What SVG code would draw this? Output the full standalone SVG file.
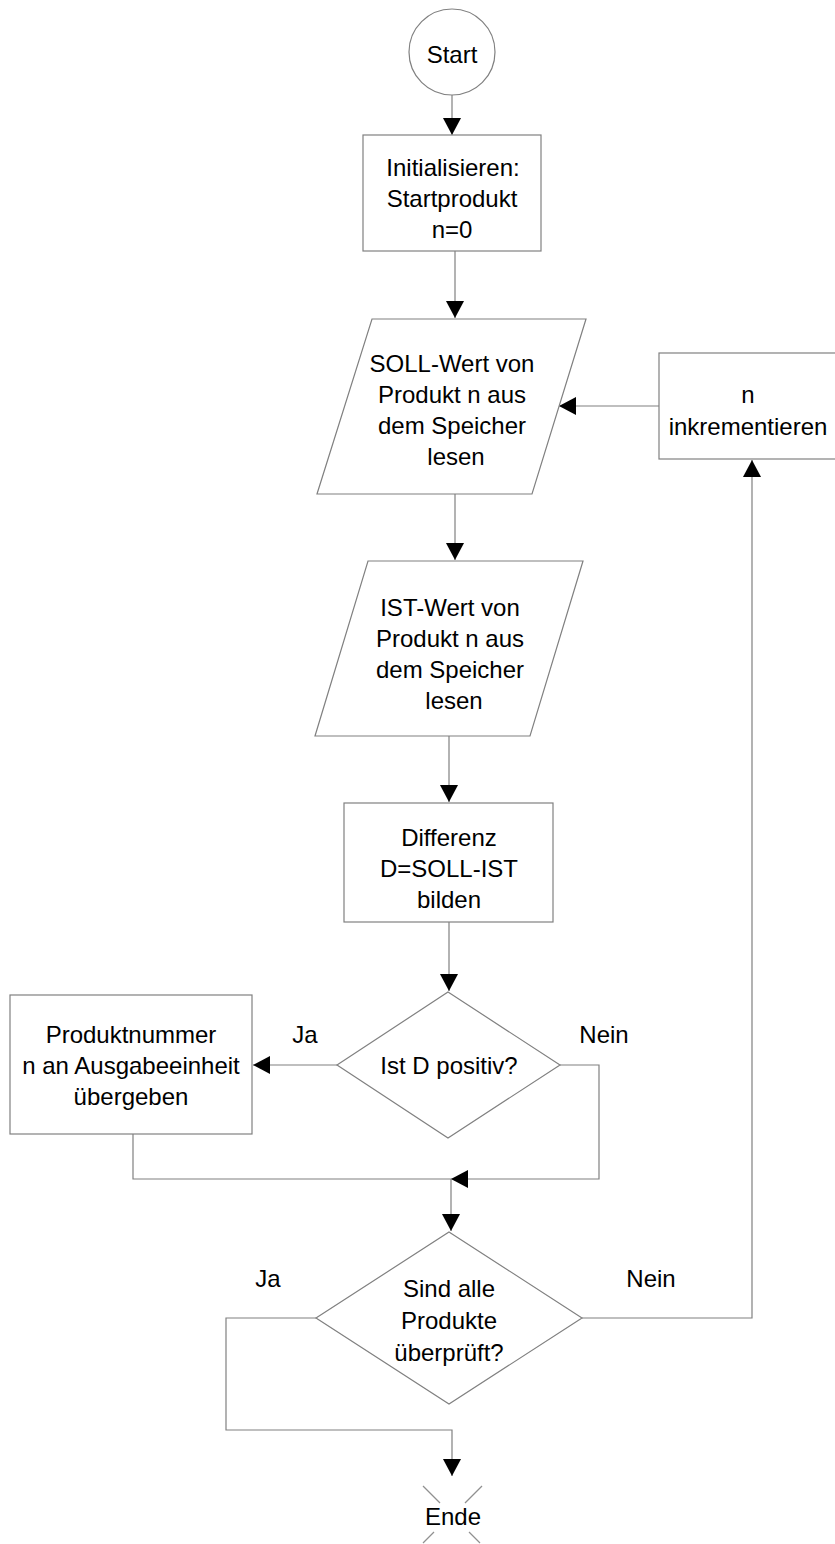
<svg xmlns="http://www.w3.org/2000/svg" width="835" height="1544" viewBox="0 0 835 1544">
<style>
.shape{fill:#ffffff;stroke:#808080;stroke-width:1.2}
.conn{fill:none;stroke:#808080;stroke-width:1.2}
.t{font-family:"Liberation Sans",Arial,sans-serif;font-size:24px;fill:#000000;text-anchor:middle}
.x{stroke:#909090;stroke-width:1.2}
</style>
<defs>
<marker id="ah" markerUnits="userSpaceOnUse" markerWidth="18" markerHeight="18" refX="17" refY="9" orient="auto">
<path d="M0,0 L17,9 L0,18 z" fill="#000000"/>
</marker>
</defs>
<rect width="835" height="1544" fill="#ffffff"/>
<g id="connectors">
<line class="conn" x1="452" y1="95" x2="452" y2="135" marker-end="url(#ah)"/>
<line class="conn" x1="455" y1="251" x2="455" y2="318" marker-end="url(#ah)"/>
<line class="conn" x1="455" y1="494" x2="455" y2="560" marker-end="url(#ah)"/>
<line class="conn" x1="449" y1="736" x2="449" y2="802" marker-end="url(#ah)"/>
<line class="conn" x1="449" y1="922" x2="449" y2="991" marker-end="url(#ah)"/>
<line class="conn" x1="337" y1="1065" x2="253" y2="1065" marker-end="url(#ah)"/>
<polyline class="conn" points="560,1065 599,1065 599,1179 451,1179" marker-end="url(#ah)"/>
<polyline class="conn" points="133,1134 133,1179 452,1179"/>
<line class="conn" x1="451" y1="1179" x2="451" y2="1231" marker-end="url(#ah)"/>
<polyline class="conn" points="316,1318 226,1318 226,1430 452,1430 452,1476" marker-end="url(#ah)"/>
<polyline class="conn" points="582,1318 752,1318 752,460" marker-end="url(#ah)"/>
<line class="conn" x1="659" y1="406" x2="559" y2="406" marker-end="url(#ah)"/>
<text class="t" x="305" y="1043">Ja</text>
<text class="t" x="604" y="1043">Nein</text>
<text class="t" x="268" y="1287">Ja</text>
<text class="t" x="651" y="1287">Nein</text>
</g>
<g id="start">
<circle class="shape" cx="452" cy="52" r="43"/>
<text class="t" x="452" y="63">Start</text>
</g>
<g id="init">
<rect class="shape" x="363" y="135" width="178" height="116"/>
<text class="t" y="176"><tspan x="453">Initialisieren:</tspan><tspan x="452" y="207">Startprodukt</tspan><tspan x="452" y="238">n=0</tspan></text>
</g>
<g id="soll">
<polygon class="shape" points="372,319 586,319 532,494 317,494"/>
<text class="t" y="372"><tspan x="452">SOLL-Wert von</tspan><tspan x="452" y="403">Produkt n aus</tspan><tspan x="452" y="434">dem Speicher</tspan><tspan x="456" y="465">lesen</tspan></text>
</g>
<g id="inkrement">
<rect class="shape" x="659" y="353" width="180" height="106"/>
<text class="t" y="403"><tspan x="748">n</tspan><tspan x="748" y="435">inkrementieren</tspan></text>
</g>
<g id="ist">
<polygon class="shape" points="368,561 583,561 530,736 315,736"/>
<text class="t" y="616"><tspan x="450">IST-Wert von</tspan><tspan x="450" y="647">Produkt n aus</tspan><tspan x="450" y="678">dem Speicher</tspan><tspan x="454" y="709">lesen</tspan></text>
</g>
<g id="differenz">
<rect class="shape" x="344" y="803" width="209" height="119"/>
<text class="t" y="846"><tspan x="449">Differenz</tspan><tspan x="449" y="877">D=SOLL-IST</tspan><tspan x="449" y="908">bilden</tspan></text>
</g>
<g id="positiv">
<polygon class="shape" points="448,992 560,1065 448,1138 337,1065"/>
<text class="t" x="449" y="1074">Ist D positiv?</text>
</g>
<g id="ausgabe">
<rect class="shape" x="10" y="995" width="242" height="139"/>
<text class="t" y="1043"><tspan x="131">Produktnummer</tspan><tspan x="131" y="1074">n an Ausgabeeinheit</tspan><tspan x="131" y="1105">übergeben</tspan></text>
</g>
<g id="alle">
<polygon class="shape" points="449,1232 582,1318 449,1404 316,1318"/>
<text class="t" y="1297"><tspan x="449">Sind alle</tspan><tspan x="449" y="1329">Produkte</tspan><tspan x="449" y="1361">überprüft?</tspan></text>
</g>
<g id="ende">
<line class="x" x1="423" y1="1486" x2="440" y2="1503"/>
<line class="x" x1="482" y1="1486" x2="465" y2="1503"/>
<line class="x" x1="434" y1="1532" x2="423" y2="1543"/>
<line class="x" x1="469" y1="1532" x2="480" y2="1543"/>
<text class="t" x="453" y="1525">Ende</text>
</g>
</svg>
